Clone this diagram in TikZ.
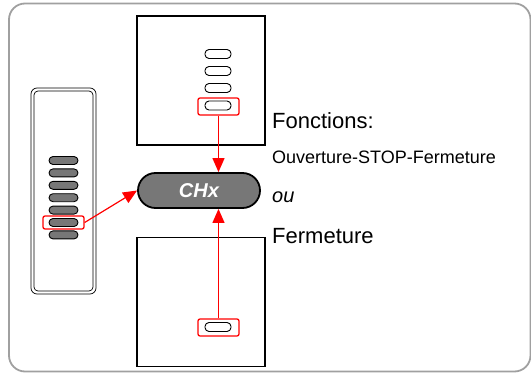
\documentclass[tikz,border=0pt]{standalone}
\usepackage{fontspec}
\setmainfont{Liberation Sans}
\usetikzlibrary{positioning, arrows.meta}

\definecolor{framegray}{HTML}{A0A0A0}
\definecolor{keygray}{HTML}{777777}

\begin{document}
\begin{tikzpicture}[x=1pt, y=-1pt,
    key/.style={draw=black, line width=0.9pt, rectangle, rounded corners=4pt,
                minimum width=26pt, minimum height=9pt, inner sep=0pt},
    darkkey/.style={key, fill=keygray, minimum width=29pt, minimum height=8pt},
    sel/.style={draw=red, line width=1.3pt, rectangle, rounded corners=2pt,
                minimum width=41pt, inner sep=0pt},
    panel/.style={draw=black, line width=1.1pt, rectangle, minimum width=128pt,
                  minimum height=129pt, inner sep=0pt},
    label/.style={anchor=west, inner sep=0pt},
    redarrow/.style={red, line width=1.2pt, -{Triangle[length=14pt, width=12pt]}}]
            \useasboundingbox (0,0) rectangle (531,375);

            %Frame
            \draw[framegray, line width=1.8pt, rounded corners=16pt] (9,3.5) rectangle (530.5,371.5);
            \draw[line width=0.7pt, rounded corners=6pt] (31,88) rectangle (96,294);
            \draw[line width=0.7pt, rounded corners=4pt] (34,91) rectangle (93,291);

            %Nodes
            \node[panel] at (201,80.5) (top) {};
            \node[panel] at (201,302) (bottom) {};

            \node[key] at (218,54) (t1) {};
            \node[key] at (218,71) (t2) {};
            \node[key] at (218,88) (t3) {};
            \node[key] at (218,105.5) (t4) {};
            \node[key] at (218,327) (b1) {};

            \node[darkkey] at (63.5,160.5) (l1) {};
            \node[darkkey] at (63.5,172.9) (l2) {};
            \node[darkkey] at (63.5,185.3) (l3) {};
            \node[darkkey] at (63.5,197.7) (l4) {};
            \node[darkkey] at (63.5,210.1) (l5) {};
            \node[darkkey] at (63.5,222.5) (l6) {};
            \node[darkkey] at (63.5,234.9) (l7) {};

            \node[sel, minimum height=17pt] at (218.5,106.5) (selT) {};
            \node[sel, minimum height=17pt] at (218.5,327.5) (selB) {};
            \node[sel, minimum height=13pt] at (63.5,222.5) (selL) {};

            \node[draw=black, fill=keygray, line width=1.8pt, rectangle, rounded corners=17.5pt,
                  minimum width=122pt, minimum height=35pt, inner sep=0pt,
                  text=white, font=\fontsize{20}{24}\selectfont\bfseries\itshape]
                  at (199,190.5) (chx) {CHx};

            \node[label, font=\fontsize{22}{26}\selectfont] at (272,121) (fct) {Fonctions:};
            \node[label, font=\fontsize{18}{22}\selectfont] at (272,157) (ouv) {Ouverture-STOP-Fermeture};
            \node[label, font=\fontsize{20}{24}\selectfont\itshape] at (272,197) (ou) {ou};
            \node[label, font=\fontsize{22}{26}\selectfont] at (272,236) (ferm) {Fermeture};

            %Lines
            \draw[redarrow] (selT.south) -- (selT.south |- chx.north);
            \draw[redarrow] (selB.north) -- (selB.north |- chx.south);
            \draw[redarrow] (selL.east) -- (chx.west);
        \end{tikzpicture}
\end{document}
